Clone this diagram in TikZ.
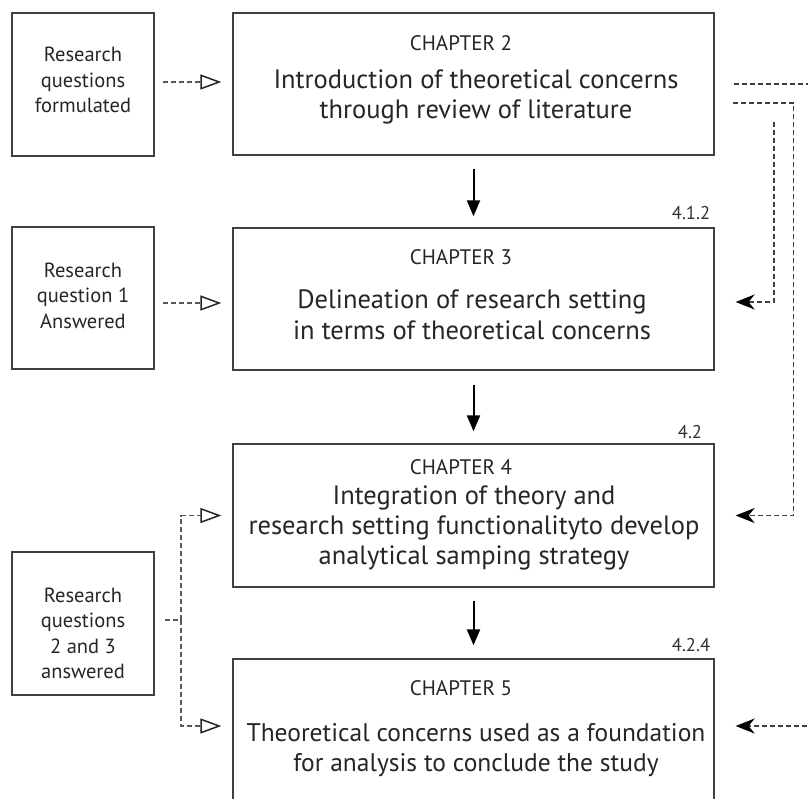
\documentclass[tikz,border=0pt]{standalone}
\usepackage{fontspec}
\setmainfont{PT Sans}
\usetikzlibrary{arrows.meta}
\begin{document}
\begin{tikzpicture}[x=1pt,y=-1pt,
  box/.style={draw=black!75, line width=1.3pt, inner sep=0pt, fill=white},
  mainbox/.style={box, minimum width=481pt, minimum height=142pt},
  sidebox/.style={box, minimum width=142pt, minimum height=143pt},
  sidetext/.style={align=center, anchor=base, inner sep=0pt, text=black!85,
    font=\fontsize{20.5}{25.5}\selectfont},
  titletext/.style={anchor=base, inner sep=0pt, text=black!85,
    font=\fontsize{21}{24}\selectfont},
  bodytext/.style={align=center, anchor=base, inner sep=0pt, text=black!85,
    font=\fontsize{26.5}{30}\selectfont},
  numtext/.style={anchor=base, inner sep=0pt, text=black!80,
    font=\fontsize{18.5}{20}\selectfont},
  down/.style={draw=black, line width=2pt, -{Triangle[length=16pt,width=13pt]}},
  dashl/.style={draw=black!65, line width=1.4pt, dash pattern=on 5pt off 3pt},
  opentip/.style={-{Triangle[open, length=21pt, width=15pt, line width=1.5pt, color=black!85]}},
  dashr/.style={draw=black!75, line width=1.5pt, dash pattern=on 5pt off 3pt},
  filltip/.style={-{Stealth[length=19pt, width=15pt, inset=6pt, color=black]}}
]
\useasboundingbox (0,0) rectangle (808,799);
\clip (0,0) rectangle (808,799);
\fill[white] (0,0) rectangle (808,799);

% main boxes
\node[mainbox] (c2) at (473.5,84) {};
\node[mainbox] (c3) at (473.5,299) {};
\node[mainbox, minimum height=143pt] (c4) at (473.5,515.5) {};
\node[mainbox, minimum height=150pt] (c5) at (473.5,734) {};

% side boxes
\node[sidebox] (l1) at (83,84.5) {};
\node[sidebox, minimum height=142pt] (l2) at (83,298) {};
\node[sidebox] (l3) at (83,623.5) {};

% texts in main boxes (anchor base = last line)
\node[titletext] (t2) at (461,51) {CHAPTER 2};
\node[bodytext] (b2) at (476,119) {Introduction of theoretical concerns\\through review of literature};
\node[titletext] (t3) at (461,265) {CHAPTER 3};
\node[bodytext] (b3) at (472,339) {Delineation of research setting\\in terms of theoretical concerns};
\node[titletext] (t4) at (461,474) {CHAPTER 4};
\node[bodytext] (b4) at (474,564) {Integration of theory and\\research setting functionalityto develop\\analytical samping strategy};
\node[titletext] (t5) at (461,695) {CHAPTER 5};
\node[bodytext, font=\fontsize{25.5}{30}\selectfont] (b5) at (476,771) {Theoretical concerns used as a foundation\\for analysis to conclude the study};

% section numbers
\node[numtext] (n3) at (691,220) {4.1.2};
\node[numtext] (n4) at (690,438) {4.2};
\node[numtext] (n5) at (691,651) {4.2.4};

% side texts
\node[sidetext] (s1) at (83,113) {Research\\questions\\formulated};
\node[sidetext] (s2) at (83,328.5) {Research\\question 1\\Answered};
\node[sidetext] (s3) at (83,678.5) {Research\\questions\\2 and 3\\answered};

% vertical arrows
\draw[down] ([yshift=-13pt]c2.south) -- ([yshift=11pt]c3.north);
\draw[down] ([yshift=-14pt]c3.south) -- ([yshift=12pt]c4.north);
\draw[down] ([yshift=-13pt]c4.south) -- ([yshift=13pt]c5.north);

% left dashed connectors
\coordinate (l1s) at ([xshift=8pt]l1.east);
\coordinate (c2w) at ([xshift=-11pt, yshift=2pt]c2.west);
\draw[dashl, opentip] (l1s |- c2w) -- (c2w);
\coordinate (l2s) at ([xshift=8pt]l2.east);
\coordinate (c3w) at ([xshift=-11pt, yshift=-4pt]c3.west);
\draw[dashl, opentip] (l2s |- c3w) -- (c3w);
\coordinate (l3s) at ([xshift=10pt]l3.east);
\coordinate (j) at (181,620);
\coordinate (c4w) at ([xshift=-11pt]c4.west);
\coordinate (c5w) at ([xshift=-11pt, yshift=8pt]c5.west);
\draw[dashl] (l3s |- j) -- (j);
\draw[dashl, opentip] (j) |- (c4w);
\draw[dashl, opentip] (j) |- (c5w);

% right dashed connectors
\coordinate (r1a) at ([xshift=19pt]c2.east);
\coordinate (r1b) at (815,84);
\draw[dashr] (r1a) -- (r1b);
\coordinate (r2a) at (733,103);
\coordinate (r2c) at ([xshift=79pt]c4.east);
\coordinate (c4e) at ([xshift=21pt]c4.east);
\draw[dashr, filltip] (r2a) -| (r2c) -- (c4e);
\coordinate (r3a) at (774,122);
\coordinate (c3e) at ([xshift=21pt, yshift=-3pt]c3.east);
\draw[dashr, filltip] (r3a) |- (c3e);
\coordinate (r4a) at (815,726);
\coordinate (c5e) at ([xshift=21pt, yshift=8pt]c5.east);
\draw[dashr, filltip] (r4a) -- (c5e);
\end{tikzpicture}
\end{document}
